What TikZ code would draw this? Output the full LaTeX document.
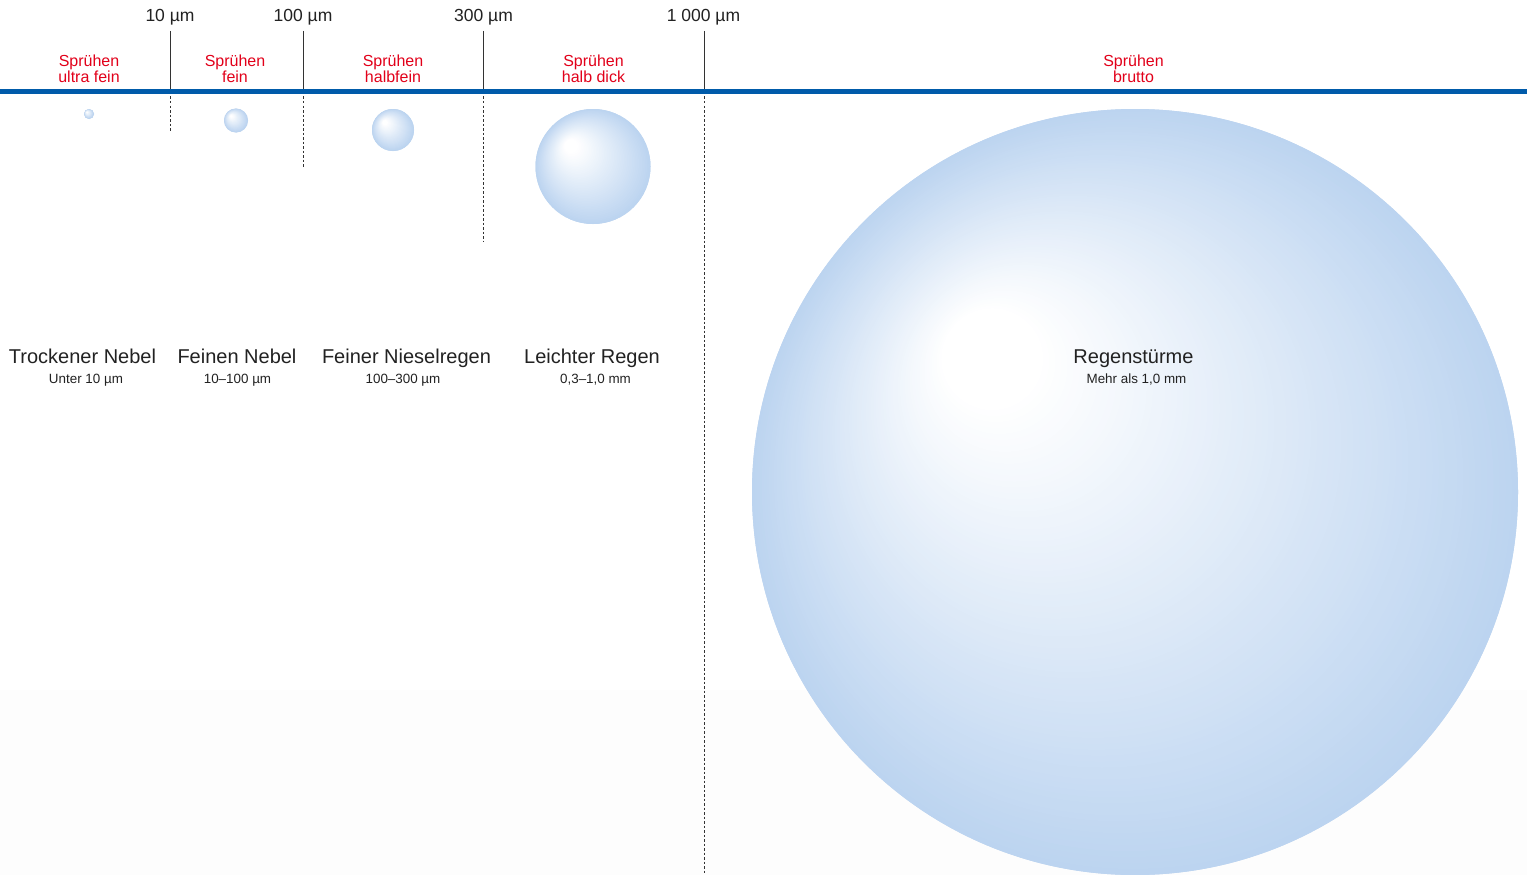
\documentclass[tikz,border=0pt]{standalone}
\usepackage{fontspec}
\setmainfont{Liberation Sans}
\definecolor{dropblue}{HTML}{BCD4F0}
\definecolor{lblred}{HTML}{E2001A}
\definecolor{barblue}{HTML}{005BAA}
\definecolor{txt}{HTML}{222222}
\definecolor{tick}{HTML}{333333}
\definecolor{floorgrey}{HTML}{FDFDFD}
\newcommand{\dropshade}[3]{%
  \foreach \i in {#3,...,0}{%
    \pgfmathsetmacro{\dT}{\i/#3}%
    \pgfmathsetmacro{\dPc}{max(0,min(100,100*(\dT-0.13)/0.87))}%
    \pgfmathsetmacro{\dR}{\dT*#2}%
    \pgfmathsetmacro{\dOx}{-0.43*#2*(1-\dT)}%
    \pgfmathsetmacro{\dOy}{-0.40*#2*(1-\dT)}%
    \fill[dropblue!\dPc!white] ([shift={(\dOx,\dOy)}]#1.center) circle[radius=\dR];
  }}
\tikzset{
  drop/.style={circle, inner sep=0pt, outer sep=0pt, fill=dropblue, draw=none},
  ticklbl/.style={anchor=base, inner sep=0pt, text=txt, font=\fontsize{17.5}{20}\selectfont},
  redlbl/.style={anchor=base, inner sep=0pt, text=lblred, align=center, font=\fontsize{16}{15.5}\selectfont},
  titlelbl/.style={anchor=base, inner sep=0pt, text=txt, font=\fontsize{20}{24}\selectfont},
  sublbl/.style={anchor=base, inner sep=0pt, text=txt, font=\fontsize{13.4}{16}\selectfont},
  tickline/.style={draw=tick, line width=1pt},
  dashline/.style={draw=tick, line width=0.9pt, dash pattern=on 2.5pt off 2pt},
  bar/.style={draw=barblue, line width=5pt}
}
\begin{document}
\begin{tikzpicture}[x=1pt,y=-1pt]
\useasboundingbox (0,0) rectangle (1527,875);
\fill[white] (0,0) rectangle (1527,875);
\fill[floorgrey] (0,690) rectangle (1527,875);

% tick coordinates
\coordinate (t1top) at (170,31);  \coordinate (t1bar) at (170,92);  \coordinate (t1end) at (170,132);
\coordinate (t2top) at (303,31);  \coordinate (t2bar) at (303,92);  \coordinate (t2end) at (303,168);
\coordinate (t3top) at (483.5,31);\coordinate (t3bar) at (483.5,92);\coordinate (t3end) at (483.5,242);
\coordinate (t4top) at (704,31);  \coordinate (t4bar) at (704,92);  \coordinate (t4end) at (704,875);
\coordinate (barL) at (0,91.5); \coordinate (barR) at (1527,91.5);

\draw[tickline] (t1top) -- (t1bar);
\draw[tickline] (t2top) -- (t2bar);
\draw[tickline] (t3top) -- (t3bar);
\draw[tickline] (t4top) -- (t4bar);
\draw[dashline] (t1bar) -- (t1end);
\draw[dashline] (t2bar) -- (t2end);
\draw[dashline] (t3bar) -- (t3end);
\draw[dashline] (t4bar) -- (t4end);
\draw[bar] (barL) -- (barR);

% tick labels
\node[ticklbl] (l1) at (170,22) {10 µm};
\node[ticklbl] (l2) at (303,22) {100 µm};
\node[ticklbl] (l3) at (483.5,22) {300 µm};
\node[ticklbl] (l4) at (703.5,22) {1 000 µm};

% red class labels
\node[redlbl] (r1) at (89,82) {Sprühen\\ultra fein};
\node[redlbl] (r2) at (235,82) {Sprühen\\fein};
\node[redlbl] (r3) at (393,82) {Sprühen\\halbfein};
\node[redlbl] (r4) at (593.5,82) {Sprühen\\halb dick};
\node[redlbl] (r5) at (1133.5,82) {Sprühen\\brutto};

% drops
\node[drop, minimum size=10pt] (d1) at (89,114) {};
\dropshade{d1}{5}{12}
\node[drop, minimum size=24pt] (d2) at (236,120.5) {};
\dropshade{d2}{12}{20}
\node[drop, minimum size=42pt] (d3) at (393,130) {};
\dropshade{d3}{21}{30}
\node[drop, minimum size=115pt] (d4) at (593,166.5) {};
\dropshade{d4}{57.5}{50}
\node[drop, minimum size=766pt] (d5) at (1135,492) {};
\dropshade{d5}{383}{90}

% titles
\node[titlelbl] (n1) at (82.5,363) {Trockener Nebel};
\node[titlelbl] (n2) at (237,363) {Feinen Nebel};
\node[titlelbl] (n3) at (406.5,363) {Feiner Nieselregen};
\node[titlelbl] (n4) at (592,363) {Leichter Regen};
\node[titlelbl] (n5) at (1133.5,363) {Regenstürme};

\node[sublbl] (s1) at (86,383.5) {Unter 10 µm};
\node[sublbl] (s2) at (237.5,383.5) {10–100 µm};
\node[sublbl] (s3) at (403,383.5) {100–300 µm};
\node[sublbl] (s4) at (595.5,383.5) {0,3–1,0 mm};
\node[sublbl] (s5) at (1136.5,383.5) {Mehr als 1,0 mm};
\end{tikzpicture}
\end{document}
